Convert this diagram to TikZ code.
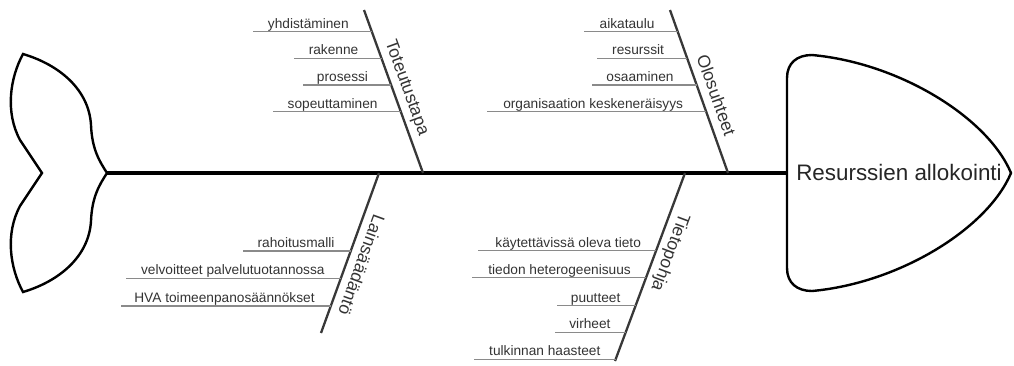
\documentclass[tikz,border=0pt]{standalone}
\usepackage{fontspec}
\setmainfont{Liberation Sans}
\definecolor{txtgray}{HTML}{333333}
\definecolor{bonegray}{HTML}{383838}
\definecolor{ribgray}{HTML}{8A8A8A}
\begin{document}
\begin{tikzpicture}[x=1pt,y=-1pt,
  outline/.style={line width=2.4pt, line join=miter},
  spine/.style={line width=3.6pt},
  bone/.style={line width=2.3pt, draw=bonegray},
  rib/.style={line width=1.4pt, draw=ribgray},
  cause/.style={font=\fontsize{13.7}{16}\selectfont, text=txtgray, inner sep=0pt, anchor=base east},
  group/.style={font=\fontsize{17.5}{20}\selectfont, text=txtgray, inner sep=0pt, anchor=base},
]
\useasboundingbox (0,0) rectangle (1014,365);

% tail fin
\coordinate (tail) at (107,173);
\draw[outline] (tail)
  .. controls (100,162) and (92,150) .. (91,125)
  .. controls (89,90) and (60,65) .. (23,54)
  .. controls (10,78) and (5,112) .. (20,140)
  -- (42,173)
  -- (20,206)
  .. controls (5,234) and (10,268) .. (23,292)
  .. controls (60,281) and (89,256) .. (91,221)
  .. controls (92,196) and (100,184) .. (tail)
  -- cycle;

% head
\coordinate (head) at (787,173);
\draw[outline] (head) -- (787,78)
  .. controls (787,63) and (797,55) .. (812,55)
  .. controls (900,63) and (988,118) .. (1011,173)
  .. controls (988,228) and (900,283) .. (812,291)
  .. controls (797,291) and (787,283) .. (787,268) -- cycle;
\node[font=\fontsize{22.4}{26}\selectfont, inner sep=0pt, anchor=base, text=black!85] (goal) at (899,180) {Resurssien allokointi};

% backbone
\draw[spine] (tail) -- (head);

% --- Toteutustapa ---
\coordinate (t1) at (364,10);
\coordinate (t2) at (423,173);
\draw[bone] (t1) -- (t2);
\node[group, rotate=-70.1] (gT) at (402.3,89.2) {Toteutustapa};
\coordinate (t1a) at (253,31.7);  \coordinate (t1b) at (371.9,31.7);
\coordinate (t2a) at (294,58.3);  \coordinate (t2b) at (381.5,58.3);
\coordinate (t3a) at (303,85);    \coordinate (t3b) at (391.2,85);
\coordinate (t4a) at (273,111.7); \coordinate (t4b) at (400.8,111.7);
\draw[rib] (t1a) -- (t1b) node[cause, pos=1, xshift=-22.5pt, yshift=3.5pt] (ct1) {yhdistäminen};
\draw[rib] (t2a) -- (t2b) node[cause, pos=1, xshift=-22.5pt, yshift=3.5pt] (ct2) {rakenne};
\draw[rib] (t3a) -- (t3b) node[cause, pos=1, xshift=-22.5pt, yshift=3.5pt] (ct3) {prosessi};
\draw[rib] (t4a) -- (t4b) node[cause, pos=1, xshift=-22.5pt, yshift=3.5pt] (ct4) {sopeuttaminen};

% --- Olosuhteet ---
\coordinate (o1) at (670,10);
\coordinate (o2) at (728,173);
\draw[bone] (o1) -- (o2);
\node[group, rotate=-70.4] (gO) at (710.6,97.1) {Olosuhteet};
\coordinate (o1a) at (584,31.7);  \coordinate (o1b) at (677.7,31.7);
\coordinate (o2a) at (597,58.3);  \coordinate (o2b) at (687.2,58.3);
\coordinate (o3a) at (592,85);    \coordinate (o3b) at (696.7,85);
\coordinate (o4a) at (487,111.7); \coordinate (o4b) at (706.2,111.7);
\draw[rib] (o1a) -- (o1b) node[cause, pos=1, xshift=-22.5pt, yshift=3.5pt] (co1) {aikataulu};
\draw[rib] (o2a) -- (o2b) node[cause, pos=1, xshift=-22.5pt, yshift=3.5pt] (co2) {resurssit};
\draw[rib] (o3a) -- (o3b) node[cause, pos=1, xshift=-22.5pt, yshift=3.5pt] (co3) {osaaminen};
\draw[rib] (o4a) -- (o4b) node[cause, pos=1, xshift=-22.5pt, yshift=3.5pt] (co4) {organisaation keskeneräisyys};

% --- Lainsäädäntö ---
\coordinate (l1) at (379,173);
\coordinate (l2) at (321,333);
\draw[bone] (l1) -- (l2);
\node[group, rotate=-109.9] (gL) at (356.0,263.0) {Lainsäädäntö};
\coordinate (l1a) at (243,251);   \coordinate (l1b) at (350.7,251);
\coordinate (l2a) at (126,278.3); \coordinate (l2b) at (340.8,278.3);
\coordinate (l3a) at (121,306);   \coordinate (l3b) at (330.8,306);
\draw[rib] (l1a) -- (l1b) node[cause, pos=1, xshift=-15.5pt, yshift=3.5pt] (cl1) {rahoitusmalli};
\draw[rib] (l2a) -- (l2b) node[cause, pos=1, xshift=-15.5pt, yshift=3.5pt] (cl2) {velvoitteet palvelutuotannossa};
\draw[rib] (l3a) -- (l3b) node[cause, pos=1, xshift=-15.5pt, yshift=3.5pt] (cl3) {HVA toimeenpanosäännökset};

% --- Tietopohja ---
\coordinate (p1) at (685,173);
\coordinate (p2) at (615,361);
\draw[bone] (p1) -- (p2);
\node[group, rotate=-110.4] (gP) at (665.5,250.9) {Tietopohja};
\coordinate (p1a) at (478,250.7); \coordinate (p1b) at (656.1,250.7);
\coordinate (p2a) at (472,277.7); \coordinate (p2b) at (646.0,277.7);
\coordinate (p3a) at (557,305.7); \coordinate (p3b) at (635.6,305.7);
\coordinate (p4a) at (555,332.3); \coordinate (p4b) at (625.7,332.3);
\coordinate (p5a) at (474,359.3); \coordinate (p5b) at (615.6,359.3);
\draw[rib] (p1a) -- (p1b) node[cause, pos=1, xshift=-14.5pt, yshift=3.5pt] (cp1) {käytettävissä oleva tieto};
\draw[rib] (p2a) -- (p2b) node[cause, pos=1, xshift=-14.5pt, yshift=3.5pt] (cp2) {tiedon heterogeenisuus};
\draw[rib] (p3a) -- (p3b) node[cause, pos=1, xshift=-14.5pt, yshift=3.5pt] (cp3) {puutteet};
\draw[rib] (p4a) -- (p4b) node[cause, pos=1, xshift=-14.5pt, yshift=3.5pt] (cp4) {virheet};
\draw[rib] (p5a) -- (p5b) node[cause, pos=1, xshift=-14.5pt, yshift=3.5pt] (cp5) {tulkinnan haasteet};
\end{tikzpicture}
\end{document}
